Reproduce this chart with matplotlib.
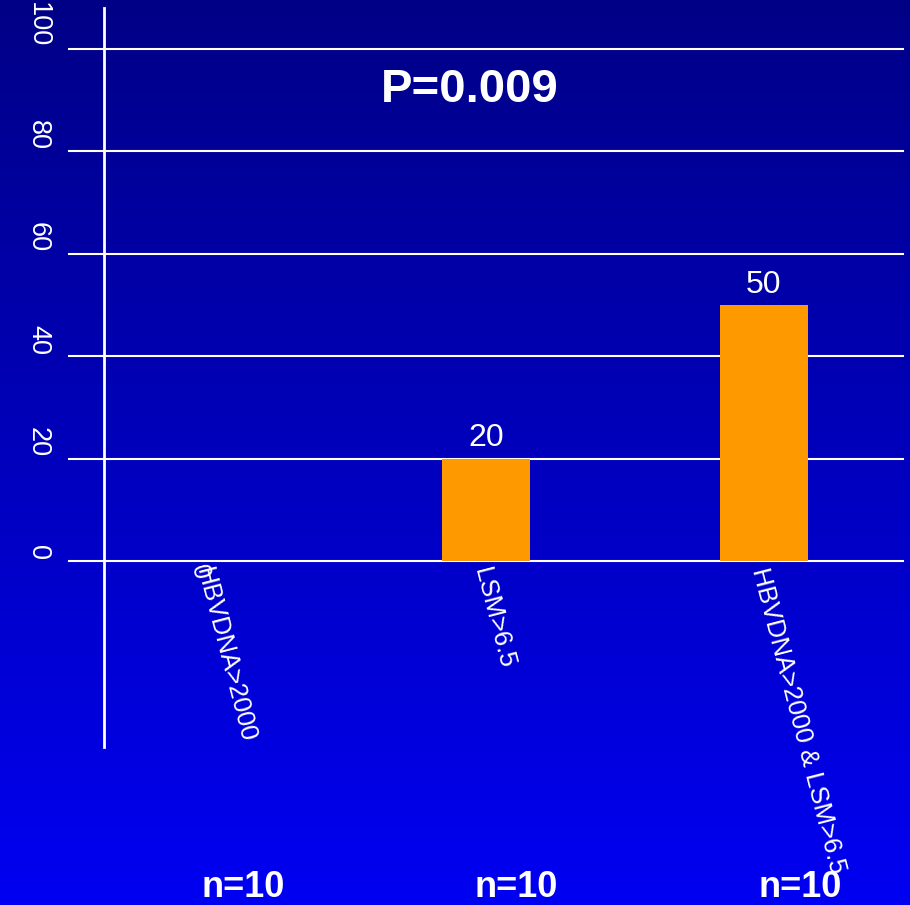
import numpy as np
import matplotlib.pyplot as plt
import matplotlib.transforms as mtransforms

plt.rcParams['font.family'] = ['Liberation Sans', 'DejaVu Sans']

categories = ['HBVDNA>2000', 'LSM>6.5', 'HBVDNA>2000 & LSM>6.5']
values = [0, 20, 50]
counts = ['n=10', 'n=10', 'n=10']
yticks = [0, 20, 40, 60, 80, 100]
p_text = 'P=0.009'

W, H = 910, 905
fig = plt.figure(figsize=(W / 100, H / 100), dpi=100)

# blue gradient background
bg = fig.add_axes([0, 0, 1, 1], zorder=0)
grad = np.linspace(0, 1, 256).reshape(-1, 1)
top = np.array([0, 0, 0x86]) / 255
bot = np.array([0, 0, 0xF2]) / 255
img = top + grad[..., None] * (bot - top)
bg.imshow(img, aspect='auto', extent=[0, 1, 0, 1], origin='upper')
bg.axis('off')

# main axes placed in pixel coords
x0, x1 = 104, 903
y_top, y_bot = 8, 747
ax = fig.add_axes([x0 / W, 1 - y_bot / H, (x1 - x0) / W, (y_bot - y_top) / H], zorder=1)
ax.patch.set_alpha(0)
ax.set_xlim(-0.374, 2.5)
ax.set_ylim(-36.3, 108.0)

for s in ['top', 'right', 'bottom']:
    ax.spines[s].set_visible(False)
ax.spines['left'].set_color('white')
ax.spines['left'].set_linewidth(2)
ax.set_xticks([])
ax.set_yticks([])

# gridlines extending past the axis to the left
trans = mtransforms.blended_transform_factory(ax.transAxes, ax.transData)
gx0 = (69 - x0) / (x1 - x0)
for t in yticks:
    ax.plot([gx0, 1], [t, t], color='white', lw=1.5, transform=trans, clip_on=False, zorder=1)
    ax.text((38 - x0) / (x1 - x0), t + 0.3, str(t), transform=trans, rotation=-90,
            rotation_mode='anchor', ha='right', va='center', color='white', fontsize=19.5)

xpos = np.arange(len(categories))
ax.bar(xpos, values, width=0.317, color='#FF9900', zorder=2)

for x, v, c in zip(xpos, values, categories):
    ax.text(x - 0.02, -1.4, c, rotation=-75.5, rotation_mode='anchor', ha='left', va='center',
            color='white', fontsize=18.5)
    if v > 0:
        ax.text(x, v + 4.0, str(v), ha='center', va='center', color='white', fontsize=23)
    else:
        ax.text(x - 0.035, -0.9, str(v), rotation=-75.5, rotation_mode='anchor', ha='left',
                va='center', color='white', fontsize=18.5)

fig.text(469.5 / W, 1 - 90.5 / H, p_text, ha='center', va='center', color='white',
         fontsize=34, fontweight='bold')

for cx, n in zip([243.5, 516, 800], counts):
    fig.text(cx / W, 1 - 887.5 / H, n, ha='center', va='center', color='white',
             fontsize=26, fontweight='bold')

fig.savefig('out.png', dpi=100)
